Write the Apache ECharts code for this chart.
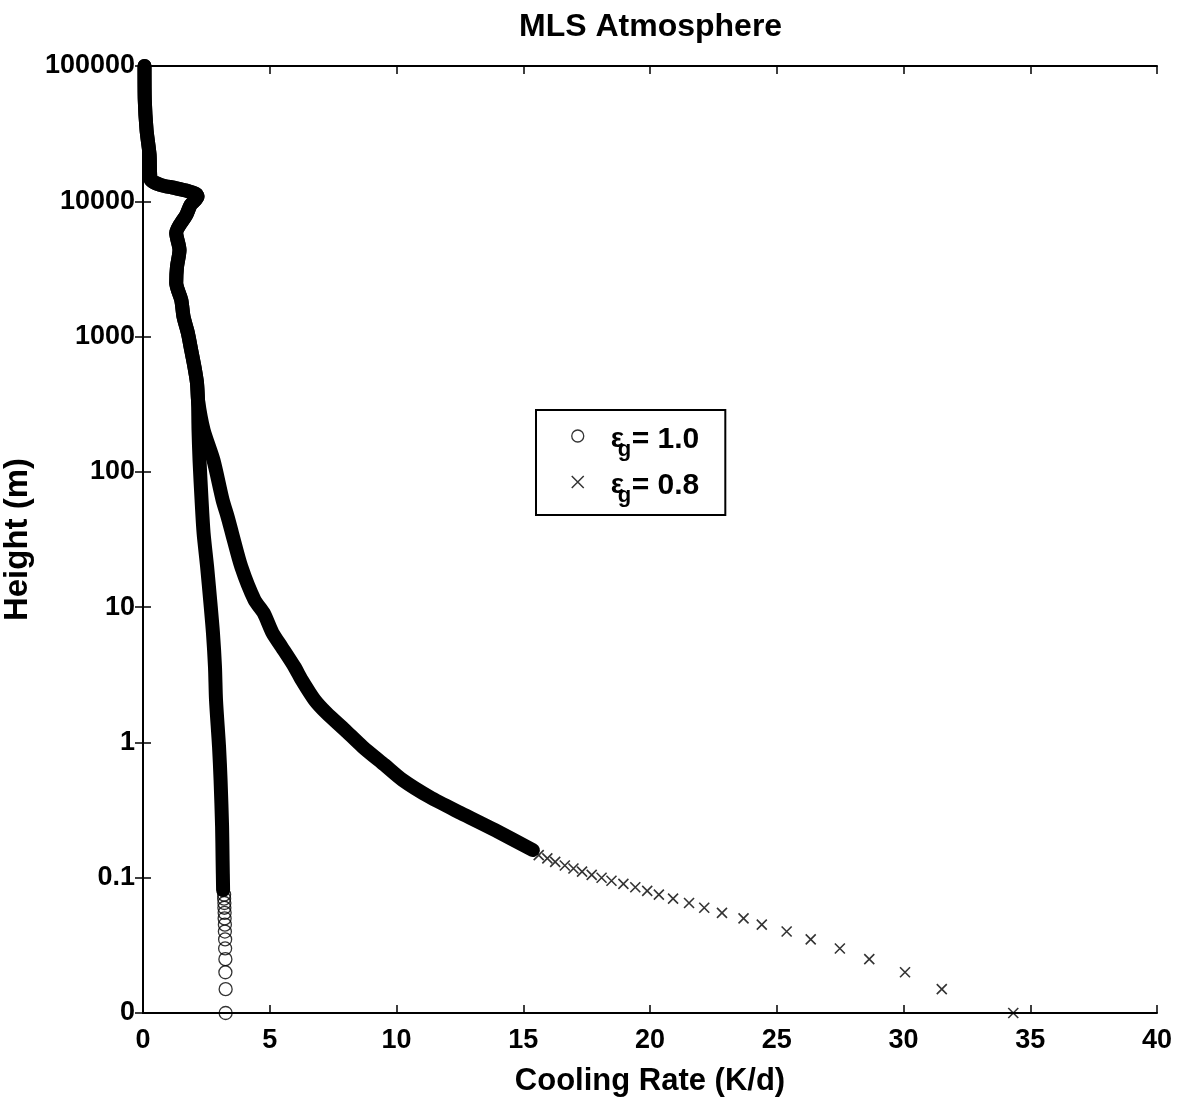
<!DOCTYPE html>
<html><head><meta charset="utf-8">
<script src="https://cdn.jsdelivr.net/npm/echarts@6/dist/echarts.min.js"></script>
<style>html,body{margin:0;padding:0;background:#fff}#c{width:1181px;height:1104px}</style>
</head><body><div id="c"></div>
<script>
const titleText = 'MLS Atmosphere';
const xAxisName = 'Cooling Rate (K/d)';
const yAxisName = 'Height (m)';
const yTickLabels = ['0', '0.1', '1', '10', '100', '1000', '10000', '100000'];
const seriesNames = ['εg = 1.0', 'εg = 0.8'];
const legendValues = ['1.0', '0.8'];

// shared upper part of both profiles (cooling rate K/d, height m)
const upperX = [0.06, 0.07, 0.14, 0.26, 0.30, 0.7, 1.2, 1.7, 2.1, 2.15, 1.88, 1.71, 1.31, 1.44, 1.34, 1.31, 1.51, 1.60, 1.77, 1.90, 2.03, 2.13, 2.17];
const upperH = [100000, 56100, 33650, 22000, 14500, 13200, 12600, 12000, 11300, 10800, 9400, 7940, 5830, 4365, 3266, 2490, 1862, 1396, 1063, 796, 596, 454, 340];

// eps_g = 1.0 : dense part and the individually visible circles
const eps10DenseX = [2.19, 2.23, 2.31, 2.39, 2.53, 2.66, 2.76, 2.84, 2.88, 3.00, 3.06, 3.12, 3.14, 3.16];
const eps10DenseH = [204, 122, 62, 35.3, 19.8, 10.7, 6.44, 3.61, 2.06, 0.927, 0.528, 0.237, 0.135, 0.081];
const eps10MarkX = [3.26, 3.26, 3.25, 3.25, 3.24, 3.24, 3.23, 3.23, 3.22, 3.22, 3.21, 3.21, 3.20, 3.20];
const eps10MarkH = [0.01, 0.015, 0.02, 0.025, 0.03, 0.035, 0.04, 0.045, 0.05, 0.055, 0.06, 0.065, 0.07, 0.075];

// eps_g = 0.8 : dense part and the individually visible crosses
const eps08DenseX = [2.39, 2.78, 3.14, 3.34, 3.51, 3.88, 4.40, 4.76, 5.11, 5.47, 5.98, 6.26, 6.77, 7.24, 7.96, 8.67, 9.53, 10.24, 11.31, 12.53, 13.88, 15.38];
const eps08DenseH = [204, 122, 62, 46.4, 35.3, 19.8, 11.3, 9.06, 6.44, 5.08, 3.61, 2.90, 2.06, 1.65, 1.24, 0.927, 0.682, 0.528, 0.395, 0.301, 0.225, 0.160];
const eps08MarkX = [34.33, 31.51, 30.06, 28.65, 27.49, 26.34, 25.39, 24.41, 23.69, 22.84, 22.14, 21.54, 20.91, 20.35, 19.89, 19.42, 18.95, 18.48, 18.09, 17.70, 17.32, 16.98, 16.64, 16.26, 15.95, 15.61];
const eps08MarkH = [0.01, 0.015, 0.02, 0.025, 0.03, 0.035, 0.04, 0.045, 0.05, 0.055, 0.06, 0.065, 0.07, 0.075, 0.08, 0.085, 0.09, 0.095, 0.1, 0.105, 0.111, 0.117, 0.123, 0.131, 0.139, 0.147];

const zip = (xs, hs) => xs.map((x, i) => [x, hs[i]]);
const FONT = '"Liberation Sans", Arial, Helvetica, sans-serif';
const xPath = 'path://M0,0L10,10M10,0L0,10';

const chart = echarts.init(document.getElementById('c'), null, {renderer: 'canvas'});
const axisCommon = {
  axisLine: {show: true, lineStyle: {color: '#000', width: 2}},
  axisTick: {show: true, inside: true, length: 8, lineStyle: {color: '#000', width: 1.5}},
  splitLine: {show: false},
  minorTick: {show: false}
};
const bandStyle = {color: '#000', width: 14, cap: 'round', join: 'round'};
chart.setOption({
  backgroundColor: '#fff',
  animation: false,
  title: {
    text: titleText, left: 519, top: 11, padding: 0,
    textStyle: {fontSize: 32, fontWeight: 'bold', color: '#000', fontFamily: FONT}
  },
  grid: {left: 143, right: 24, top: 66, bottom: 91, containLabel: false, outerBoundsMode: 'none'},
  legend: {
    orient: 'vertical', left: 536, top: 410,
    padding: [15, 26, 8, 35], itemGap: 10,
    itemWidth: 12, itemHeight: 12,
    borderColor: '#000', borderWidth: 2, backgroundColor: '#fff',
    data: [
      {name: seriesNames[0], icon: 'circle', itemStyle: {color: 'rgba(0,0,0,0)', borderColor: '#000', borderWidth: 1.3}},
      {name: seriesNames[1], icon: xPath, itemStyle: {color: 'rgba(0,0,0,0)', borderColor: '#000', borderWidth: 1.5}}
    ],
    formatter: function (name) {
      const i = seriesNames.indexOf(name);
      return '{e|ε}{g|g}{t|= ' + legendValues[i] + '}';
    },
    textStyle: {
      padding: [0, 0, 0, 22],
      rich: {
        e: {fontSize: 28, fontWeight: 'bold', fontFamily: FONT, color: '#000', lineHeight: 22, verticalAlign: 'top', width: 7},
        g: {fontSize: 22, fontWeight: 'bold', fontFamily: FONT, color: '#000', lineHeight: 22, verticalAlign: 'top', padding: [14, 0, 0, 0], width: 14},
        t: {fontSize: 30, fontWeight: 'bold', fontFamily: FONT, color: '#000', lineHeight: 22, verticalAlign: 'top'}
      }
    }
  },
  xAxis: [
    Object.assign({}, axisCommon, {
      type: 'value', position: 'bottom', min: 0, max: 40, interval: 5,
      name: xAxisName, nameLocation: 'middle', nameGap: 53,
      nameTextStyle: {fontSize: 31, fontWeight: 'bold', color: '#000', fontFamily: FONT},
      axisLabel: {fontSize: 27, fontWeight: 'bold', color: '#000', fontFamily: FONT, margin: 14}
    }),
    Object.assign({}, axisCommon, {
      type: 'value', position: 'top', min: 0, max: 40, interval: 5,
      axisLabel: {show: false}
    })
  ],
  yAxis: [
    Object.assign({}, axisCommon, {
      type: 'log', logBase: 10, position: 'left', min: 0.01, max: 100000,
      name: yAxisName, nameLocation: 'middle', nameGap: 100, nameRotate: 90,
      nameTextStyle: {fontSize: 33, fontWeight: 'bold', color: '#000', fontFamily: FONT},
      axisLabel: {
        fontSize: 27, fontWeight: 'bold', color: '#000', fontFamily: FONT, margin: 8,
        formatter: function (v) { return yTickLabels[Math.round(Math.log10(v)) + 2]; }
      }
    }),
    Object.assign({}, axisCommon, {
      type: 'log', logBase: 10, position: 'right', min: 0.01, max: 100000,
      axisLabel: {show: false}
    })
  ],
  series: [
    {
      name: 'profile1', type: 'line', xAxisIndex: 0, yAxisIndex: 0,
      data: zip(upperX.concat(eps10DenseX), upperH.concat(eps10DenseH)),
      symbol: 'none', clip: false, silent: true, smooth: 0.25,
      lineStyle: bandStyle
    },
    {
      name: 'profile2', type: 'line', xAxisIndex: 0, yAxisIndex: 0,
      data: zip(upperX.concat(eps08DenseX), upperH.concat(eps08DenseH)),
      symbol: 'none', clip: false, silent: true, smooth: 0.25,
      lineStyle: bandStyle
    },
    {
      name: seriesNames[0], type: 'scatter', xAxisIndex: 0, yAxisIndex: 0,
      data: zip(eps10MarkX, eps10MarkH), clip: false,
      symbol: 'circle', symbolSize: 13,
      itemStyle: {color: 'rgba(0,0,0,0)', borderColor: '#000', borderWidth: 1.3}
    },
    {
      name: seriesNames[1], type: 'scatter', xAxisIndex: 0, yAxisIndex: 0,
      data: zip(eps08MarkX, eps08MarkH), clip: false,
      symbol: xPath, symbolSize: 10,
      itemStyle: {color: 'rgba(0,0,0,0)', borderColor: '#000', borderWidth: 1.6}
    }
  ]
});
</script></body></html>
